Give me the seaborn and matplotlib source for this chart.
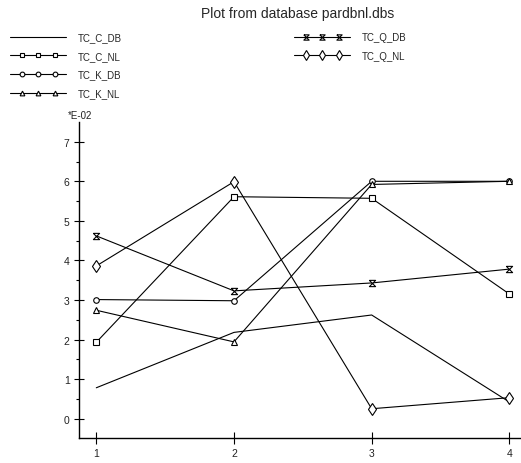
import matplotlib
matplotlib.use("Agg")
import matplotlib.pyplot as plt
from matplotlib.legend_handler import HandlerLine2D
from matplotlib.lines import Line2D
import seaborn as sns
import numpy as np

sns.set_style("white")
plt.rcParams['font.family'] = ['Liberation Sans', 'DejaVu Sans']

x_vals = [1, 2, 3, 4]
series_names = ["TC_C_DB", "TC_C_NL", "TC_K_DB", "TC_K_NL", "TC_Q_DB", "TC_Q_NL"]
tc_c_db = [0.78, 2.18, 2.62, 0.42]
tc_c_nl = [1.93, 5.61, 5.57, 3.15]
tc_k_db = [3.01, 2.98, 6.00, 6.00]
tc_k_nl = [2.74, 1.94, 5.92, 6.00]
tc_q_db = [4.62, 3.23, 3.43, 3.78]
tc_q_nl = [3.86, 5.99, 0.25, 0.53]
y_ticks = [0, 1, 2, 3, 4, 5, 6, 7]
title = "Plot from database pardbnl.dbs"
scale_label = "*E-02"

hourglass = [(-1, 1), (1, 1), (-1, -1), (1, -1), (-1, 1)]
styles = {
    "TC_C_DB": dict(marker=None, ms=0),
    "TC_C_NL": dict(marker="s", ms=4),
    "TC_K_DB": dict(marker="o", ms=4),
    "TC_K_NL": dict(marker="^", ms=4),
    "TC_Q_DB": dict(marker=hourglass, ms=4.5),
    "TC_Q_NL": dict(marker="d", ms=6),
}
data = dict(zip(series_names, [tc_c_db, tc_c_nl, tc_k_db, tc_k_nl, tc_q_db, tc_q_nl]))

fig = plt.figure(figsize=(5.21, 4.64), dpi=100)
ax = fig.add_axes([0.151, 0.053, 0.847, 0.682])

for name in series_names:
    st = styles[name]
    kw = dict(color="black", linewidth=0.8, label=name)
    if st["marker"] is not None:
        kw.update(marker=st["marker"], markersize=st["ms"], markerfacecolor="white",
                  markeredgecolor="black", markeredgewidth=0.8)
    sns.lineplot(x=x_vals, y=data[name], ax=ax, **kw)

ax.set_xlim(0.872, 4.077)
ax.set_ylim(-0.5, 7.5)
ax.set_xticks(x_vals)
ax.set_xticklabels([str(v) for v in x_vals])
ax.set_yticks(y_ticks)
ax.set_yticks(np.arange(-0.5, 7.5, 1.0)[1:], minor=True)
ax.set_yticklabels([str(v) for v in y_ticks])
ax.set_xlabel("")
ax.set_ylabel("")
for s in ["top", "right"]:
    ax.spines[s].set_visible(False)
for s in ["left", "bottom"]:
    ax.spines[s].set_linewidth(1.0)
    ax.spines[s].set_color("black")
ax.tick_params(axis="x", which="major", bottom=True, direction="inout", length=8, width=0.8,
               color="black", labelsize=7.5, labelcolor="#222222", pad=3)
ax.tick_params(axis="y", which="major", left=True, direction="inout", length=7, width=0.8,
               color="black", labelsize=7.5, labelcolor="#222222", pad=3)
ax.tick_params(axis="y", which="minor", left=True, direction="out", length=2.5, width=0.8,
               color="black")

handles, labels = ax.get_legend_handles_labels()
if ax.get_legend() is not None:
    ax.get_legend().remove()


class ThreeMarkerHandler(HandlerLine2D):
    def create_artists(self, legend, orig_handle, xdescent, ydescent, width, height,
                       fontsize, trans):
        pad = self._marker_pad * fontsize
        x0 = -xdescent
        x1 = -xdescent + width
        xdata = np.array([x0, x0 + pad, (x0 + x1) / 2, x1 - pad, x1])
        ydata = np.full_like(xdata, (height - ydescent) / 2)
        legline = Line2D(xdata, ydata)
        self.update_prop(legline, orig_handle, legend)
        legline.set_markevery([1, 2, 3])
        if orig_handle.get_marker() not in (None, "None", ""):
            legline.set_markersize(orig_handle.get_markersize() * 0.85)
        legline.set_transform(trans)
        return [legline]


hmap = {h: ThreeMarkerHandler(marker_pad=1.2) for h in handles}
common = dict(frameon=False, fontsize=7, handlelength=5.8, handletextpad=1.2,
              labelspacing=0.9, borderpad=0, borderaxespad=0, handler_map=hmap)
leg1 = fig.legend(handles[:4], labels[:4], loc="upper left",
                  bbox_to_anchor=(10 / 521, 1 - 33 / 464), **common)
leg2 = fig.legend(handles[4:], labels[4:], loc="upper left",
                  bbox_to_anchor=(294 / 521, 1 - 33 / 464), **common)

fig.text(298 / 521, 1 - 14 / 464, title, ha="center", va="center", fontsize=10)
fig.text(80 / 521, 1 - 116 / 464, scale_label, ha="center", va="center", fontsize=7,
         color="#222222")

fig.savefig("out.png", dpi=100)
